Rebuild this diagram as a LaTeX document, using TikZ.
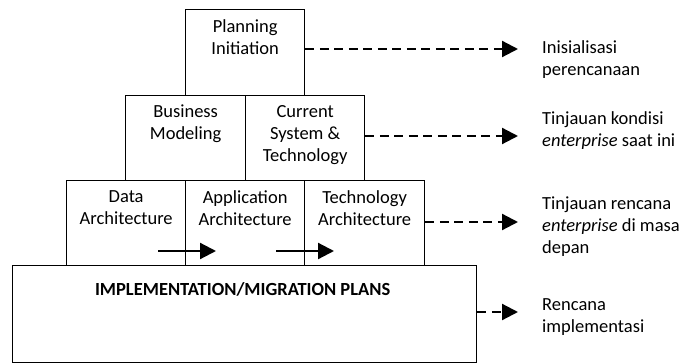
\documentclass[tikz,border=0pt]{standalone}
\usepackage{fontspec}
\setmainfont{Carlito}
\usetikzlibrary{arrows.meta,calc}
\begin{document}
\begin{tikzpicture}[x=1pt,y=1pt,
  box/.style={draw=black, line width=1.3pt, anchor=north west, inner sep=0pt},
  txt/.style={anchor=north, align=center, inner sep=0pt, font=\fontsize{18.5}{22}\selectfont, execute at begin node={\rule{0pt}{13pt}}},
  rtxt/.style={anchor=north west, align=left, inner sep=0pt, font=\fontsize{18.5}{22}\selectfont, execute at begin node={\rule{0pt}{13pt}}},
  dasharrow/.style={line width=2.2pt, dash pattern=on 9pt off 5.5pt, -{Triangle[length=16pt,width=16pt]}},
  solidarrow/.style={line width=2.2pt, -{Triangle[length=16pt,width=16pt]}}]
\useasboundingbox (0,0) rectangle (679,-363);
% boxes
\node[box, minimum width=119pt, minimum height=86pt] (pi) at (185,-9) {};
\node[box, minimum width=120pt, minimum height=85pt] (bm) at (125,-95) {};
\node[box, minimum width=119pt, minimum height=85pt] (cs) at (245,-95) {};
\node[box, minimum width=119pt, minimum height=85pt] (da) at (66,-180) {};
\node[box, minimum width=119pt, minimum height=85pt] (aa) at (185,-180) {};
\node[box, minimum width=120pt, minimum height=85pt] (ta) at (304,-180) {};
\node[box, minimum width=464pt, minimum height=97pt] (im) at (12,-265) {};
% box texts
\node[txt] (pit) at ($(pi.north)+(0,-10)$) {Planning\\Initiation};
\node[txt] (bmt) at ($(bm.north)+(0,-10)$) {Business\\Modeling};
\node[txt] (cst) at ($(cs.north)+(0,-10)$) {Current\\System \&\\Technology};
\node[txt] (dat) at ($(da.north)+(0,-10)$) {Data\\Architecture};
\node[txt] (aat) at ($(aa.north)+(0,-10)$) {Application\\Architecture};
\node[txt] (tat) at ($(ta.north)+(0,-10)$) {Technology\\Architecture};
\node[txt, font=\fontsize{18.5}{22}\selectfont\bfseries] (imt) at ($(im.north)+(-2,-17)$) {IMPLEMENTATION/MIGRATION PLANS};
% right labels
\node[rtxt] (l1) at (542,-40) {Inisialisasi\\perencanaan};
\node[rtxt] (l2) at (542,-111) {Tinjauan kondisi\\\emph{enterprise} saat ini};
\node[rtxt] (l3) at (542,-197) {Tinjauan rencana\\\emph{enterprise} di masa\\depan};
\node[rtxt] (l4) at (542,-298) {Rencana\\implementasi};
% arrow end coordinates
\coordinate (e1) at (518,-49);
\coordinate (e2) at (518,-136);
\coordinate (e3) at (518,-222);
\coordinate (e4) at (518,-312);
\draw[dasharrow] (pi.east |- e1) -- (e1);
\draw[dasharrow] (cs.east |- e2) -- (e2);
\draw[dasharrow] (ta.east |- e3) -- (e3);
\draw[dasharrow] (im.east |- e4) -- (e4);
% small arrows
\coordinate (s1) at (158,-251);
\coordinate (t1) at (216,-251);
\coordinate (s2) at (276,-251);
\coordinate (t2) at (334,-251);
\draw[solidarrow] (s1) -- (t1);
\draw[solidarrow] (s2) -- (t2);
\end{tikzpicture}
\end{document}
